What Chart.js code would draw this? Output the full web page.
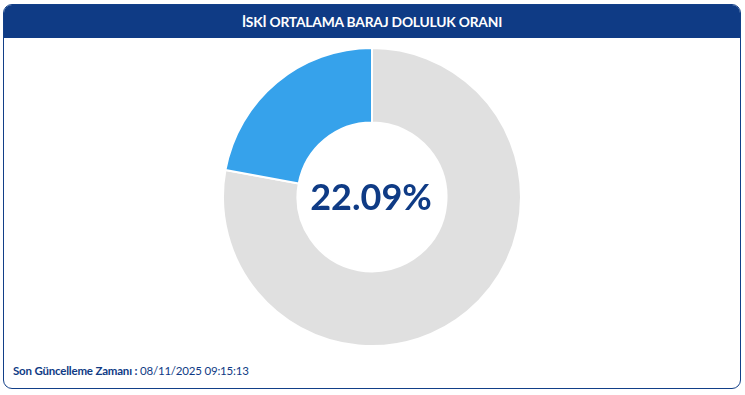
<!DOCTYPE html>
<html lang="tr">
<head>
<meta charset="utf-8">
<script src="https://cdn.jsdelivr.net/npm/chart.js@4"></script>
<style>
    html, body { margin: 0; padding: 0; background: #fff; width: 745px; height: 395px; overflow: hidden; font-family: 'Lato', 'Open Sans', sans-serif; }
    .card { position: absolute; left: 3px; top: 4px; width: 736px; height: 383px; border: 1.5px solid #123f88; border-radius: 9px; overflow: hidden; }
    .card-header { height: 33px; background: #0f3b85; color: #fff; font-weight: 700; font-size: 13.8px; text-align: center; line-height: 34px; letter-spacing: -0.2px; }
    .chart-box { position: absolute; left: 0; top: 42px; width: 736px; height: 300px; }
    .footer { position: absolute; left: 9px; top: 359px; font-size: 11.5px; color: #0f3b85; letter-spacing: -0.2px; }
    .footer b { font-weight: 700; }
</style>
</head>
<body>
<div class="card">
    <div class="card-header">İSKİ ORTALAMA BARAJ DOLULUK ORANI</div>
    <div class="chart-box"><canvas id="damChart"></canvas></div>
    <div class="footer"><b>Son Güncelleme Zamanı :</b> <span id="updated"></span></div>
</div>
<script>
const labels = ['Boş', 'Dolu'];
const values = [77.91, 22.09];
const colors = ['#e0e0e0', '#36a2eb'];
const updatedAt = '08/11/2025 09:15:13';

document.getElementById('updated').innerText = updatedAt;

const centerText = {
    id: 'centerText',
    afterDraw(chart) {
        const meta = chart.getDatasetMeta(0);
        if (!meta.data.length) return;
        const { x, y } = meta.data[0];
        const ctx = chart.ctx;
        ctx.save();
        ctx.fillStyle = '#0f3b85';
        ctx.font = 'bold 36px Lato, "Open Sans", sans-serif';
        ctx.textAlign = 'center';
        ctx.textBaseline = 'middle';
        ctx.fillText(values[1].toFixed(2) + '%', x - 1, y + 1);
        ctx.restore();
    }
};

new Chart(document.getElementById('damChart'), {
    type: 'doughnut',
    data: {
        labels: labels,
        datasets: [{ data: values, backgroundColor: colors, borderColor: '#fff', borderWidth: 2 }]
    },
    options: {
        responsive: true,
        maintainAspectRatio: false,
        animation: false,
        cutout: '50%',
        plugins: { legend: { display: false }, tooltip: { enabled: false } }
    },
    plugins: [centerText]
});
</script>
</body>
</html>
